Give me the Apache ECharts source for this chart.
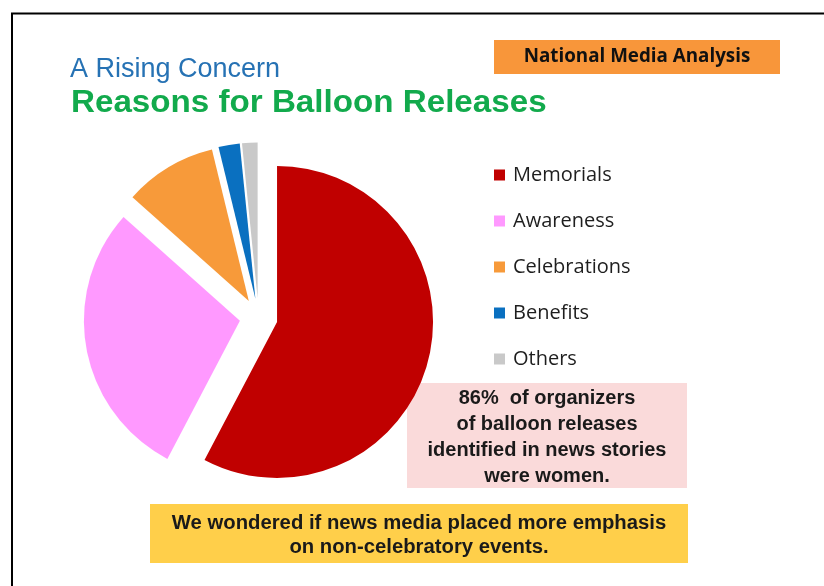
<!DOCTYPE html>
<html>
<head>
<meta charset="utf-8">
<script src="https://cdn.jsdelivr.net/npm/echarts@6/dist/echarts.min.js"></script>
<style>
  html, body { margin: 0; padding: 0; background: #ffffff; }
  #chart { width: 824px; height: 586px; }
</style>
</head>
<body>
<div id="chart"></div>
<script>
// Reasons given for balloon releases (share of news stories, %)
const categories = ['Memorials', 'Awareness', 'Celebrations', 'Benefits', 'Others'];
const shares = [57.7, 28.9, 9.6, 2.2, 1.6];

const palette = ['#C00000', '#FF99FF', '#F79A3A', '#0A70C0', '#C9C9C9'];

const kicker = 'A Rising Concern';
const headline = 'Reasons for Balloon Releases';
const badge = 'National Media Analysis';
const noteLines = ['86%  of organizers', 'of balloon releases', 'identified in news stories', 'were women.'];
const questionLines = ['We wondered if news media placed more emphasis', 'on non-celebratory events.'];

const chart = echarts.init(document.getElementById('chart'), null, { renderer: 'canvas' });

const pieData = categories.map((name, i) => ({
  name: name,
  value: shares[i],
  selected: true,
  itemStyle: { color: palette[i] },
  select: { itemStyle: { color: palette[i] } }
}));

chart.setOption({
  animation: false,
  backgroundColor: '#ffffff',
  legend: {
    orient: 'vertical',
    left: 494,
    top: 165,
    padding: 0,
    itemWidth: 11,
    itemHeight: 11,
    itemGap: 26,
    icon: 'rect',
    selectedMode: false,
    data: categories,
    textStyle: {
      fontFamily: 'Open Sans',
      fontSize: 20,
      color: '#1e1e1e',
      lineHeight: 20,
      padding: [0, 0, 0, 3]
    }
  },
  series: [{
    type: 'pie',
    center: [258.6, 317.4],
    radius: 156,
    startAngle: 90,
    clockwise: true,
    selectedMode: 'multiple',
    selectedOffset: 19,
    silent: true,
    label: { show: false },
    labelLine: { show: false },
    itemStyle: { borderWidth: 0 },
    data: pieData
  }],
  graphic: [
    {
      type: 'rect',
      shape: { x: 12, y: 13.5, width: 830, height: 600 },
      style: { fill: null, stroke: '#000000', lineWidth: 2 },
      silent: true
    },
    {
      type: 'text',
      x: 70, y: 69.5,
      style: {
        text: kicker,
        fontFamily: 'Liberation Sans, Arial, sans-serif',
        fontSize: 27,
        fill: '#2672B4',
        verticalAlign: 'middle'
      }
    },
    {
      type: 'text',
      x: 71, y: 103.5,
      scaleX: 1.07,
      style: {
        text: headline,
        fontFamily: 'Liberation Sans, Arial, sans-serif',
        fontWeight: 'bold',
        fontSize: 31,
        fill: '#12AA4C',
        verticalAlign: 'middle'
      }
    },
    {
      type: 'rect',
      shape: { x: 494, y: 40, width: 286, height: 34 },
      style: { fill: '#F8963A' }
    },
    {
      type: 'text',
      x: 637, y: 57,
      style: {
        text: badge,
        fontFamily: 'Open Sans',
        fontWeight: 'bold',
        fontSize: 18.8,
        fill: '#111111',
        align: 'center',
        verticalAlign: 'middle'
      }
    },
    {
      type: 'rect',
      shape: { x: 407, y: 383, width: 280, height: 105 },
      style: { fill: '#FADADA' }
    },
    {
      type: 'text',
      x: 547, y: 437,
      style: {
        text: noteLines.join('\n'),
        fontFamily: 'Liberation Sans, Arial, sans-serif',
        fontWeight: 'bold',
        fontSize: 20,
        lineHeight: 26,
        fill: '#1a1a1a',
        align: 'center',
        verticalAlign: 'middle'
      }
    },
    {
      type: 'rect',
      shape: { x: 150, y: 504, width: 538, height: 59 },
      style: { fill: '#FFCF4A' }
    },
    {
      type: 'text',
      x: 419, y: 535.5,
      style: {
        text: questionLines.join('\n'),
        fontFamily: 'Liberation Sans, Arial, sans-serif',
        fontWeight: 'bold',
        fontSize: 20.3,
        lineHeight: 24,
        fill: '#1a1a1a',
        align: 'center',
        verticalAlign: 'middle'
      }
    }
  ]
});
</script>
</body>
</html>
